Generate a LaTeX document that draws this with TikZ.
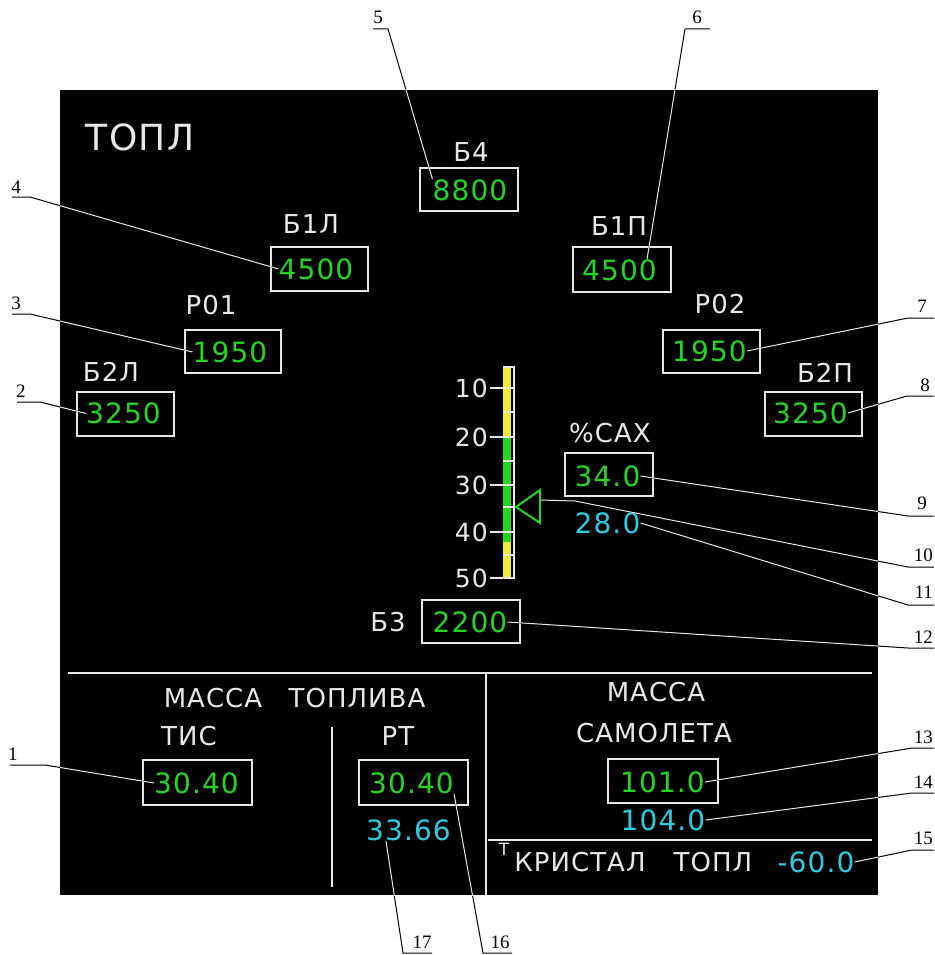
\documentclass[tikz,border=0pt]{standalone}
\usepackage{fontspec}
\setmainfont{DejaVu Sans}[LetterSpace=4]
\newfontfamily\calloutfont{Liberation Serif}
\definecolor{scrgreen}{RGB}{34,214,34}
\definecolor{scrcyan}{RGB}{40,205,225}
\definecolor{scryellow}{RGB}{240,235,50}
\definecolor{scrwhite}{RGB}{232,232,232}
\newcommand\leaderlines[1]{%
  \draw[#1] (ttis.west) -- (c1) -- (u1);
  \draw[#1] (t2l.west) -- (c2) -- (u2);
  \draw[#1] (tr01.west) -- (c3) -- (u3);
  \draw[#1] (t1l.west) -- (c4) -- (u4);
  \draw[#1] (t8800.north west) -- (c5) -- (u5);
  \draw[#1] ([xshift=-10pt]t1p.north east) -- (c6) -- (u6);
  \draw[#1] (tr02.east) -- (c7) -- (u7);
  \draw[#1] (t2p.east) -- (c8) -- (u8);
  \draw[#1] (tsax.east) -- (c9) -- (u9);
  \draw[#1] (tribase) -- (bend10) -- (c10) -- (u10);
  \draw[#1] (t28.east) -- (c11) -- (u11);
  \draw[#1] (t2200.east) -- (c12) -- (u12);
  \draw[#1] (t101.east) -- (c13) -- (u13);
  \draw[#1] (t104.east) -- (c14) -- (u14);
  \draw[#1] (t60.east) -- (c15) -- (u15);
  \draw[#1] (trt.south east) -- (c16) -- (u16);
  \draw[#1] ([xshift=20pt]t3366.south west) -- (c17) -- (u17);
}
\begin{document}
\begin{tikzpicture}[x=1pt,y=-1pt,
  lbl/.style={inner sep=0pt,text=scrwhite,font=\fontsize{26}{26}\selectfont},
  val/.style={inner sep=0pt,text=scrgreen,font=\fontsize{28}{28}\selectfont},
  cval/.style={inner sep=0pt,text=scrcyan,font=\fontsize{28}{28}\selectfont},
  vbox/.style={draw=scrwhite,line width=2.2pt,inner sep=0pt,minimum height=43pt},
  sepline/.style={draw=scrwhite,line width=2.6pt},
  cnum/.style={inner sep=0pt,font=\calloutfont\fontsize{19}{19}\selectfont},
  rnum/.style={cnum,anchor=east},
  scalenum/.style={inner sep=0pt,anchor=east,text=scrwhite,font=\fontsize{25}{25}\selectfont},
  tick/.style={draw=scrwhite,line width=1.6pt}]
\useasboundingbox (0,0) rectangle (934,955);
\fill[white] (0,0) rectangle (934,955);
% panel
\fill[black] (60,90) rectangle (878,895);

% title
\node[lbl,font=\fontsize{36}{36}\selectfont] (title) at (140,137) {ТОПЛ};

% tank labels
\node[lbl] (lb4) at (471,152) {Б4};
\node[lbl] (lb1l) at (311,224) {Б1Л};
\node[lbl] (lb1p) at (619,226) {Б1П};
\node[lbl] (lr01) at (211,305) {Р01};
\node[lbl] (lr02) at (720,304) {Р02};
\node[lbl] (lb2l) at (111,372) {Б2Л};
\node[lbl] (lb2p) at (825,373) {Б2П};
\node[lbl] (lsax) at (610,433) {\%САХ};
\node[lbl] (lb3) at (388,622) {Б3};

% boxes
\node[vbox,minimum width=98pt] (bx4) at (469,189.5) {};
\node[vbox,minimum width=97pt,minimum height=44pt] (bx1l) at (319.5,269) {};
\node[vbox,minimum width=98pt,minimum height=45pt] (bx1p) at (622,269.5) {};
\node[vbox,minimum width=96pt] (bxr01) at (233,351.5) {};
\node[vbox,minimum width=97pt] (bxr02) at (711.5,351.5) {};
\node[vbox,minimum width=97pt,minimum height=44pt] (bx2l) at (125.5,414) {};
\node[vbox,minimum width=97pt,minimum height=44pt] (bx2p) at (813.5,414) {};
\node[vbox,minimum width=88pt] (bxsax) at (609,474.5) {};
\node[vbox,minimum width=98pt] (bx3) at (471,621.5) {};
\node[vbox,minimum width=109pt,minimum height=45pt] (bxtis) at (197.5,782.5) {};
\node[vbox,minimum width=109pt,minimum height=45pt] (bxrt) at (413.5,782.5) {};
\node[vbox,minimum width=110pt,minimum height=44pt] (bxm) at (663,781) {};

% values
\node[val] (t8800) at (470,190) {8800};
\node[val] (t1l) at (316,269) {4500};
\node[val] (t1p) at (619.5,270) {4500};
\node[val] (tr01) at (230,352) {1950};
\node[val] (tr02) at (709.5,351) {1950};
\node[val] (t2l) at (123.5,413.5) {3250};
\node[val] (t2p) at (810.5,413) {3250};
\node[val] (tsax) at (607.5,476) {34.0};
\node[cval] (t28) at (607.5,523) {28.0};
\node[val] (t2200) at (470,622) {2200};

% CG scale
\fill[scryellow] (503,367) rectangle (511,437);
\fill[scrgreen] (503,437) rectangle (511,542);
\fill[scryellow] (503,542) rectangle (511,578);
\draw[tick] (503,367) -- (514,367) -- (514,578) -- (490,578);
\foreach \yy in {388,437,485,532} {\draw[tick] (490,\yy) -- (514,\yy);}
\foreach \yy in {412,461,507,555} {\draw[tick] (503,\yy) -- (514,\yy);}
\node[scalenum] (s10) at (488,388) {10};
\node[scalenum] (s20) at (488,437) {20};
\node[scalenum] (s30) at (488,485) {30};
\node[scalenum] (s40) at (488,532) {40};
\node[scalenum] (s50) at (488,578) {50};
\coordinate (triapex) at (516,507);
\coordinate (tribase) at (540,500);
\draw[scrgreen,line width=2pt,line join=miter] (triapex) -- (540,490) -- (540,523) -- cycle;

% lower section
\draw[sepline] (68,673) -- (872,673);
\draw[sepline] (332,727) -- (332,887);
\draw[sepline] (486,673) -- (486,895);
\draw[sepline] (488,840) -- (872,840);

\node[lbl] (lmassa1) at (213,698) {МАССА};
\node[lbl] (ltopliva) at (357,698) {ТОПЛИВА};
\node[lbl] (ltis) at (189,736) {ТИС};
\node[lbl] (lrt) at (398,736) {РТ};
\node[val] (ttis) at (196.5,783) {30.40};
\node[val] (trt) at (411.5,783) {30.40};
\node[cval] (t3366) at (408.5,830) {33.66};

\node[lbl] (lmassa2) at (656,692) {МАССА};
\node[lbl] (lsam) at (654,733) {САМОЛЕТА};
\node[val] (t101) at (662.5,782) {101.0};
\node[cval] (t104) at (663,820) {104.0};

\node[lbl,font=\fontsize{17}{17}\selectfont] (lT) at (504,849) {Т};
\node[lbl] (lkr) at (580,862) {КРИСТАЛ};
\node[lbl] (ltopl) at (713,862) {ТОПЛ};
\node[cval] (t60) at (816,862) {-60.0};

% callout coordinates
\coordinate (c1) at (45,765);  \coordinate (u1) at (10,765);
\coordinate (c2) at (40,402);  \coordinate (u2) at (17,402);
\coordinate (c3) at (30,314);  \coordinate (u3) at (12,314);
\coordinate (c4) at (30,197);  \coordinate (u4) at (12,197);
\coordinate (c5) at (388,29);  \coordinate (u5) at (373,29);
\coordinate (c6) at (685,29);  \coordinate (u6) at (710,29);
\coordinate (c7) at (908,318); \coordinate (u7) at (934,318);
\coordinate (c8) at (907,396); \coordinate (u8) at (934,396);
\coordinate (c9) at (908,516); \coordinate (u9) at (934,516);
\coordinate (bend10) at (575,501);
\coordinate (c10) at (908,567); \coordinate (u10) at (934,567);
\coordinate (c11) at (908,605); \coordinate (u11) at (934,605);
\coordinate (c12) at (908,648); \coordinate (u12) at (934,648);
\coordinate (c13) at (912,748); \coordinate (u13) at (934,748);
\coordinate (c14) at (912,793); \coordinate (u14) at (934,793);
\coordinate (c15) at (912,850); \coordinate (u15) at (934,850);
\coordinate (c16) at (483,953); \coordinate (u16) at (512,953);
\coordinate (c17) at (403,953); \coordinate (u17) at (432,953);

% callout numbers
\node[cnum] (n1) at (13,754) {1};
\node[cnum] (n2) at (21,391) {2};
\node[cnum] (n3) at (16,303) {3};
\node[cnum] (n4) at (16,187) {4};
\node[cnum] (n5) at (378,17) {5};
\node[cnum] (n6) at (697,17) {6};
\node[cnum] (n7) at (922,306) {7};
\node[cnum] (n8) at (925,385) {8};
\node[cnum] (n9) at (922,503) {9};
\node[rnum] (n10) at (933,555) {10};
\node[rnum] (n11) at (933,592) {11};
\node[rnum] (n12) at (933,637) {12};
\node[rnum] (n13) at (933,737) {13};
\node[rnum] (n14) at (933,782) {14};
\node[rnum] (n15) at (933,838) {15};
\node[cnum] (n16) at (500,942) {16};
\node[cnum] (n17) at (422,942) {17};

% leaders: black outside panel, white inside
\leaderlines{black,line width=1pt}
\begin{scope}
  \clip (60,90) rectangle (878,895);
  \leaderlines{scrwhite,line width=1pt}
\end{scope}
\end{tikzpicture}
\end{document}
